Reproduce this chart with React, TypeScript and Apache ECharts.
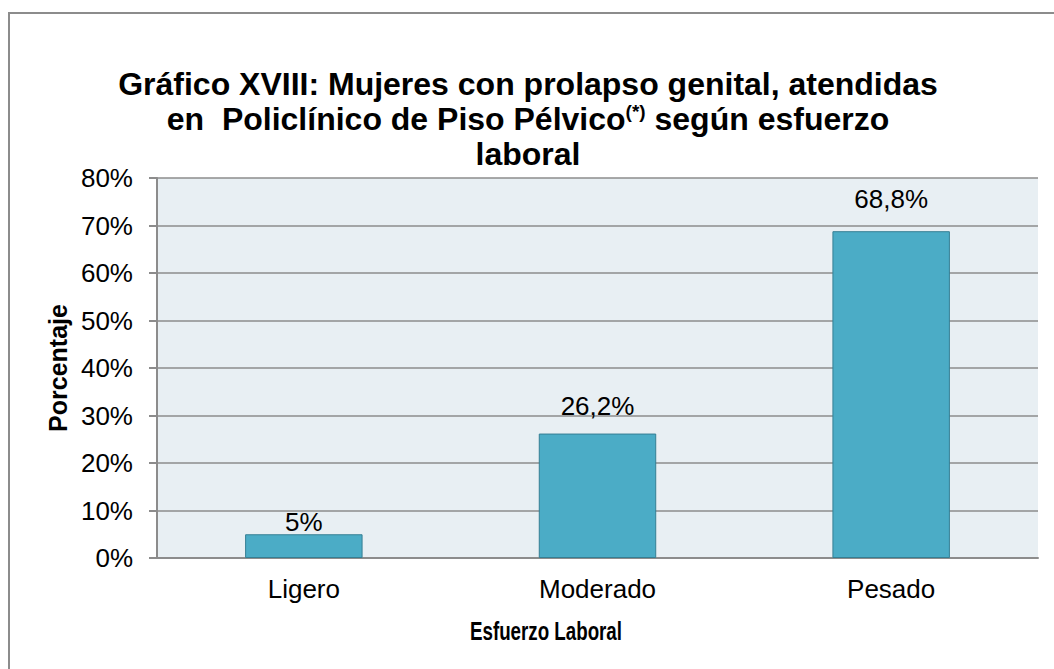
import React, { useEffect, useRef } from "react";
import * as echarts from "echarts";

const categories = ["Ligero", "Moderado", "Pesado"];
const values = [5, 26.2, 68.8];
const labelDistances = [-1, 15, 19];
const yTicks = { min: 0, max: 80, interval: 10 };
const titleLines = [
  "{t|Gráfico XVIII: Mujeres con prolapso genital, atendidas}",
  "{t|en  Policlínico de Piso Pélvico}{s|(*)}{t| según esfuerzo}",
  "{t|laboral}",
];
const xAxisTitle = "Esfuerzo Laboral";
const yAxisTitle = "Porcentaje";

const FONT = "'Liberation Sans', Arial, sans-serif";

export default function App() {
  const ref = useRef<HTMLDivElement>(null);
  useEffect(() => {
    if (!ref.current) return;
    const chart = echarts.init(ref.current, null, { renderer: "svg" });
    chart.setOption({
      animation: false,
      backgroundColor: "#ffffff",
      textStyle: { fontFamily: FONT },
      grid: {
        left: 157,
        top: 178,
        right: 16,
        bottom: 111,
        show: true,
        backgroundColor: "#e8eff3",
        borderWidth: 0,
      },
      xAxis: {
        type: "category",
        data: categories,
        axisLine: { show: true, lineStyle: { color: "#8c8c8c", width: 2 } },
        axisTick: { show: false },
        axisLabel: { color: "#000", fontSize: 26, fontFamily: FONT, margin: 18 },
      },
      yAxis: {
        type: "value",
        min: yTicks.min,
        max: yTicks.max,
        interval: yTicks.interval,
        name: yAxisTitle,
        nameLocation: "middle",
        nameGap: 84,
        nameTextStyle: { color: "#000", fontSize: 25, fontWeight: "bold", fontFamily: FONT },
        axisLine: { show: true, lineStyle: { color: "#8c8c8c", width: 2 } },
        axisTick: { show: true, length: 8, lineStyle: { color: "#8c8c8c", width: 2 } },
        axisLabel: { color: "#000", fontSize: 26, fontFamily: FONT, margin: 24, formatter: "{value}%" },
        splitLine: { show: true, lineStyle: { color: "#8c8c8c", width: 1.5 } },
      },
      series: [
        {
          type: "bar",
          barWidth: "40%",
          data: values.map((v, i) => ({
            value: v,
            label: { distance: labelDistances[i] },
          })),
          itemStyle: { color: "#4bacc6", borderColor: "#357f94", borderWidth: 1 },
          label: {
            show: true,
            position: "top",
            color: "#000",
            fontSize: 26,
            fontFamily: FONT,
            formatter: (p: any) => String(p.value).replace(".", ",") + "%",
          },
        },
      ],
      graphic: [
        {
          type: "rect",
          shape: { x: 9, y: 13, width: 1100, height: 700 },
          style: { fill: "none", stroke: "#8c8c8c", lineWidth: 2 },
          silent: true,
        },
        {
          type: "text",
          x: 528,
          y: 66,
          style: {
            text: titleLines.join("\n"),
            align: "center",
            verticalAlign: "top",
            rich: {
              t: { fontFamily: FONT, fontWeight: "bold", fontSize: 32, fill: "#000", lineHeight: 35 },
              s: { fontFamily: FONT, fontWeight: "bold", fontSize: 19, fill: "#000", lineHeight: 35, padding: [0, 0, 14, 0] },
            },
          },
        },
        {
          type: "text",
          x: 546,
          y: 632,
          scaleX: 0.75,
          style: {
            text: xAxisTitle,
            fill: "#000",
            font: `bold 25px ${FONT}`,
            align: "center",
            verticalAlign: "middle",
          },
        },
      ],
    });
    return () => chart.dispose();
  }, []);
  return (
    <div
      ref={ref}
      style={{ position: "absolute", left: 0, top: 0, width: 1054, height: 669 }}
    />
  );
}
